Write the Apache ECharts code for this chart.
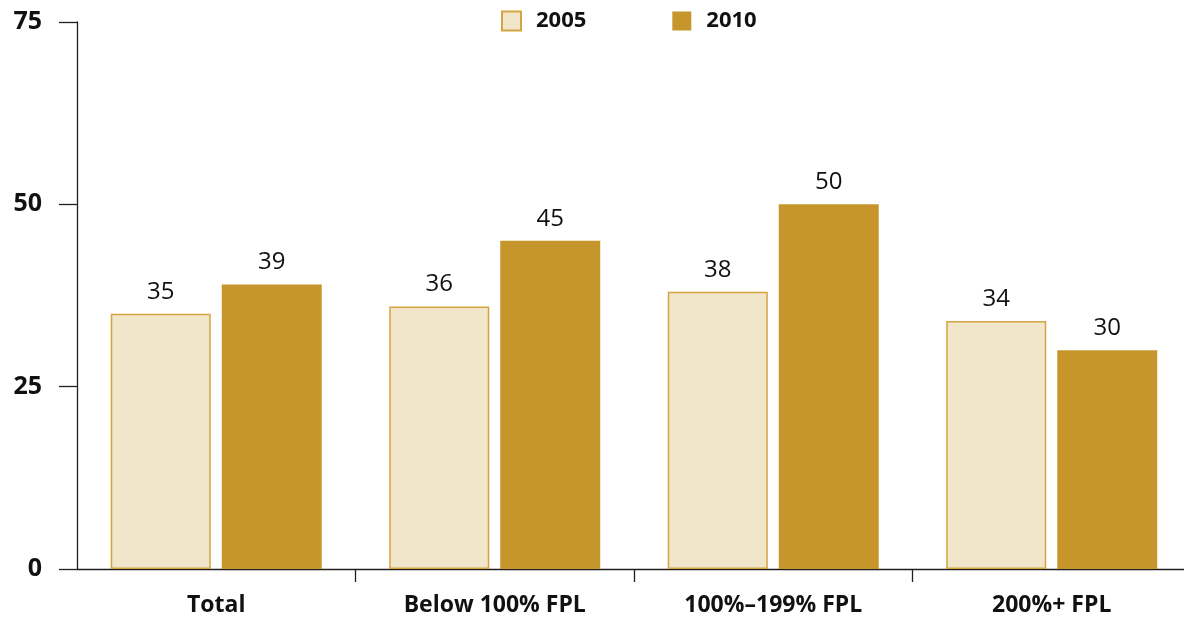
<!DOCTYPE html>
<html>
<head>
<meta charset="utf-8">
<script src="https://cdn.jsdelivr.net/npm/echarts@6/dist/echarts.min.js"></script>
<style>
  html, body { margin: 0; padding: 0; background: #fff; }
  #chart { width: 1184px; height: 620px; }
</style>
</head>
<body>
<div id="chart"></div>
<script>
var categories = ['Total', 'Below 100% FPL', '100%\u2013199% FPL', '200%+ FPL'];
var seriesNames = ['2005', '2010'];
var values2005 = [35, 36, 38, 34];
var values2010 = [39, 45, 50, 30];
var yTicks = [0, 25, 50, 75];

var FONT = '"Open Sans", "Noto Sans", sans-serif';
var chart = echarts.init(document.getElementById('chart'), null, { renderer: 'canvas' });

var option = {
  backgroundColor: '#ffffff',
  animation: false,
  legend: {
    left: 496,
    top: 5,
    itemWidth: 19,
    itemHeight: 19,
    itemGap: 86,
    icon: 'rect',
    textStyle: { fontFamily: FONT, fontSize: 22, fontWeight: 'bold', color: '#111', padding: [0, 0, 0, 10] },
    data: seriesNames
  },
  grid: {
    left: 77, right: -7, top: 22, bottom: 51,
    containLabel: false,
    outerBoundsMode: 'none'
  },
  xAxis: {
    type: 'category',
    data: categories,
    boundaryGap: true,
    axisLine: { lineStyle: { color: '#231f20', width: 1.3 } },
    axisTick: {
      show: true, length: 13, inside: false,
      lineStyle: { color: '#231f20', width: 1.3 },
      interval: function (i) { return i > 0; }
    },
    axisLabel: {
      margin: 25,
      fontFamily: FONT, fontSize: 23, fontWeight: 'bold', color: '#111',
      interval: 0
    }
  },
  yAxis: {
    type: 'value',
    min: yTicks[0],
    max: yTicks[yTicks.length - 1],
    interval: 25,
    splitLine: { show: false },
    axisLine: { show: true, lineStyle: { color: '#231f20', width: 1.3 } },
    axisTick: { show: true, length: 18, inside: false, lineStyle: { color: '#231f20', width: 1.3 } },
    axisLabel: {
      margin: 35,
      fontFamily: FONT, fontSize: 25, fontWeight: 'bold', color: '#111'
    }
  },
  series: [
    {
      name: seriesNames[0],
      type: 'bar',
      data: values2005,
      barWidth: 100,
      barGap: '11%',
      itemStyle: { color: '#F1E6C9', borderColor: '#D4A442', borderWidth: 1.5 },
      label: {
        show: true, position: 'top', distance: 10,
        fontFamily: FONT, fontSize: 24, color: '#111'
      }
    },
    {
      name: seriesNames[1],
      type: 'bar',
      data: values2010,
      barWidth: 100,
      barGap: '11%',
      itemStyle: { color: '#C6962D' },
      label: {
        show: true, position: 'top', distance: 10,
        fontFamily: FONT, fontSize: 24, color: '#111'
      }
    }
  ]
};
chart.setOption(option);
</script>
</body>
</html>
